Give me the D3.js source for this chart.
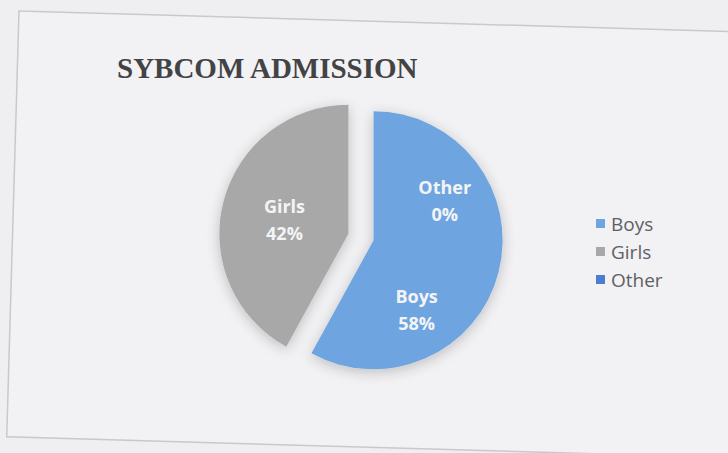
<!DOCTYPE html>
<html>
<head>
<meta charset="utf-8">
<script src="https://cdn.jsdelivr.net/npm/d3@7"></script>
<style>
  html, body { margin: 0; padding: 0; background: #efeff1; }
  svg { display: block; }
</style>
</head>
<body>
<svg id="chart" width="728" height="453"></svg>
<script>
// ---- data ----
const title = "SYBCOM ADMISSION";
const categories = ["Boys", "Girls", "Other"];
const values = [58, 42, 0];
const colors = ["#6ea5e0", "#a8a8a8", "#4a7fd0"];

// ---- layout ----
const W = 728, H = 453;
const cx = 361, cy = 237, R = 129, explode = 13;

const svg = d3.select("#chart");

// paper background
svg.append("rect").attr("width", W).attr("height", H).attr("fill", "#efeff1");

// scanned chart frame (slightly rotated)
svg.append("rect")
  .attr("x", 0).attr("y", 0).attr("width", 900).attr("height", 426)
  .attr("fill", "#f2f2f4")
  .attr("stroke", "#c9c9cc").attr("stroke-width", 1.5)
  .attr("transform", "translate(19,11) rotate(1.65)");

// title
svg.append("text")
  .attr("x", 117).attr("y", 78)
  .attr("font-family", "'Liberation Serif', 'Times New Roman', serif")
  .attr("font-weight", "bold")
  .attr("font-size", 29)
  .attr("fill", "#434345")
  .text(title);

// shadow filter
const defs = svg.append("defs");
const f = defs.append("filter").attr("id", "shadow")
  .attr("x", "-30%").attr("y", "-30%").attr("width", "160%").attr("height", "160%");
f.append("feGaussianBlur").attr("in", "SourceAlpha").attr("stdDeviation", 7).attr("result", "b");
f.append("feOffset").attr("in", "b").attr("dx", 0).attr("dy", 3).attr("result", "o");
f.append("feComponentTransfer").attr("in", "o").attr("result", "s")
  .append("feFuncA").attr("type", "linear").attr("slope", 0.22);
const fm = f.append("feMerge");
fm.append("feMergeNode").attr("in", "s");
fm.append("feMergeNode").attr("in", "SourceGraphic");

const data = categories.map((c, i) => ({ name: c, value: values[i], color: colors[i] }));
const pie = d3.pie().sort(null).value(d => d.value)(data);
const arc = d3.arc().innerRadius(0).outerRadius(R);

function offset(d) {
  const mid = (d.startAngle + d.endAngle) / 2;
  return [Math.sin(mid) * explode, -Math.cos(mid) * explode];
}

const g = svg.append("g").attr("transform", `translate(${cx},${cy})`).attr("filter", "url(#shadow)");
g.selectAll("path").data(pie.filter(d => d.value > 0)).join("path")
  .attr("d", arc)
  .attr("fill", d => d.data.color)
  .attr("transform", d => { const o = offset(d); return `translate(${o[0]},${o[1]})`; });

// data labels (Excel "best fit" style placement)
const labelPlacement = {
  Boys: { angle: 147, dist: 79, ref: "Boys" },
  Girls: { angle: null, dist: 66, ref: "Girls" },
  Other: { angle: 59, dist: 83, ref: "Boys" }
};
const total = d3.sum(values);
const lg = svg.append("g").attr("transform", `translate(${cx},${cy})`);
pie.forEach(d => {
  const p = labelPlacement[d.data.name];
  const refSlice = pie.find(s => s.data.name === p.ref);
  const o = offset(refSlice);
  const a = p.angle === null ? (d.startAngle + d.endAngle) / 2 : p.angle * Math.PI / 180;
  const x = o[0] + Math.sin(a) * p.dist;
  const y = o[1] - Math.cos(a) * p.dist;
  const t = lg.append("text")
    .attr("x", x).attr("y", y)
    .attr("text-anchor", "middle")
    .attr("font-family", "'Open Sans', sans-serif")
    .attr("font-weight", "bold")
    .attr("font-size", 18)
    .attr("fill", "#f4f4f6");
  t.append("tspan").attr("x", x).attr("dy", "-0.22em").text(d.data.name);
  t.append("tspan").attr("x", x).attr("dy", "1.5em").text(Math.round(d.data.value / total * 100) + "%");
});

// legend
const leg = svg.append("g").attr("transform", "translate(596,224)");
const items = leg.selectAll("g").data(data).join("g")
  .attr("transform", (d, i) => `translate(0,${i * 28})`);
items.append("rect").attr("x", 0).attr("y", -5).attr("width", 9).attr("height", 9)
  .attr("fill", d => d.color);
items.append("text").attr("x", 15).attr("y", 0).attr("dy", "0.35em")
  .attr("font-family", "'Open Sans', sans-serif")
  .attr("font-size", 19)
  .attr("fill", "#606064")
  .text(d => d.name);
</script>
</body>
</html>
